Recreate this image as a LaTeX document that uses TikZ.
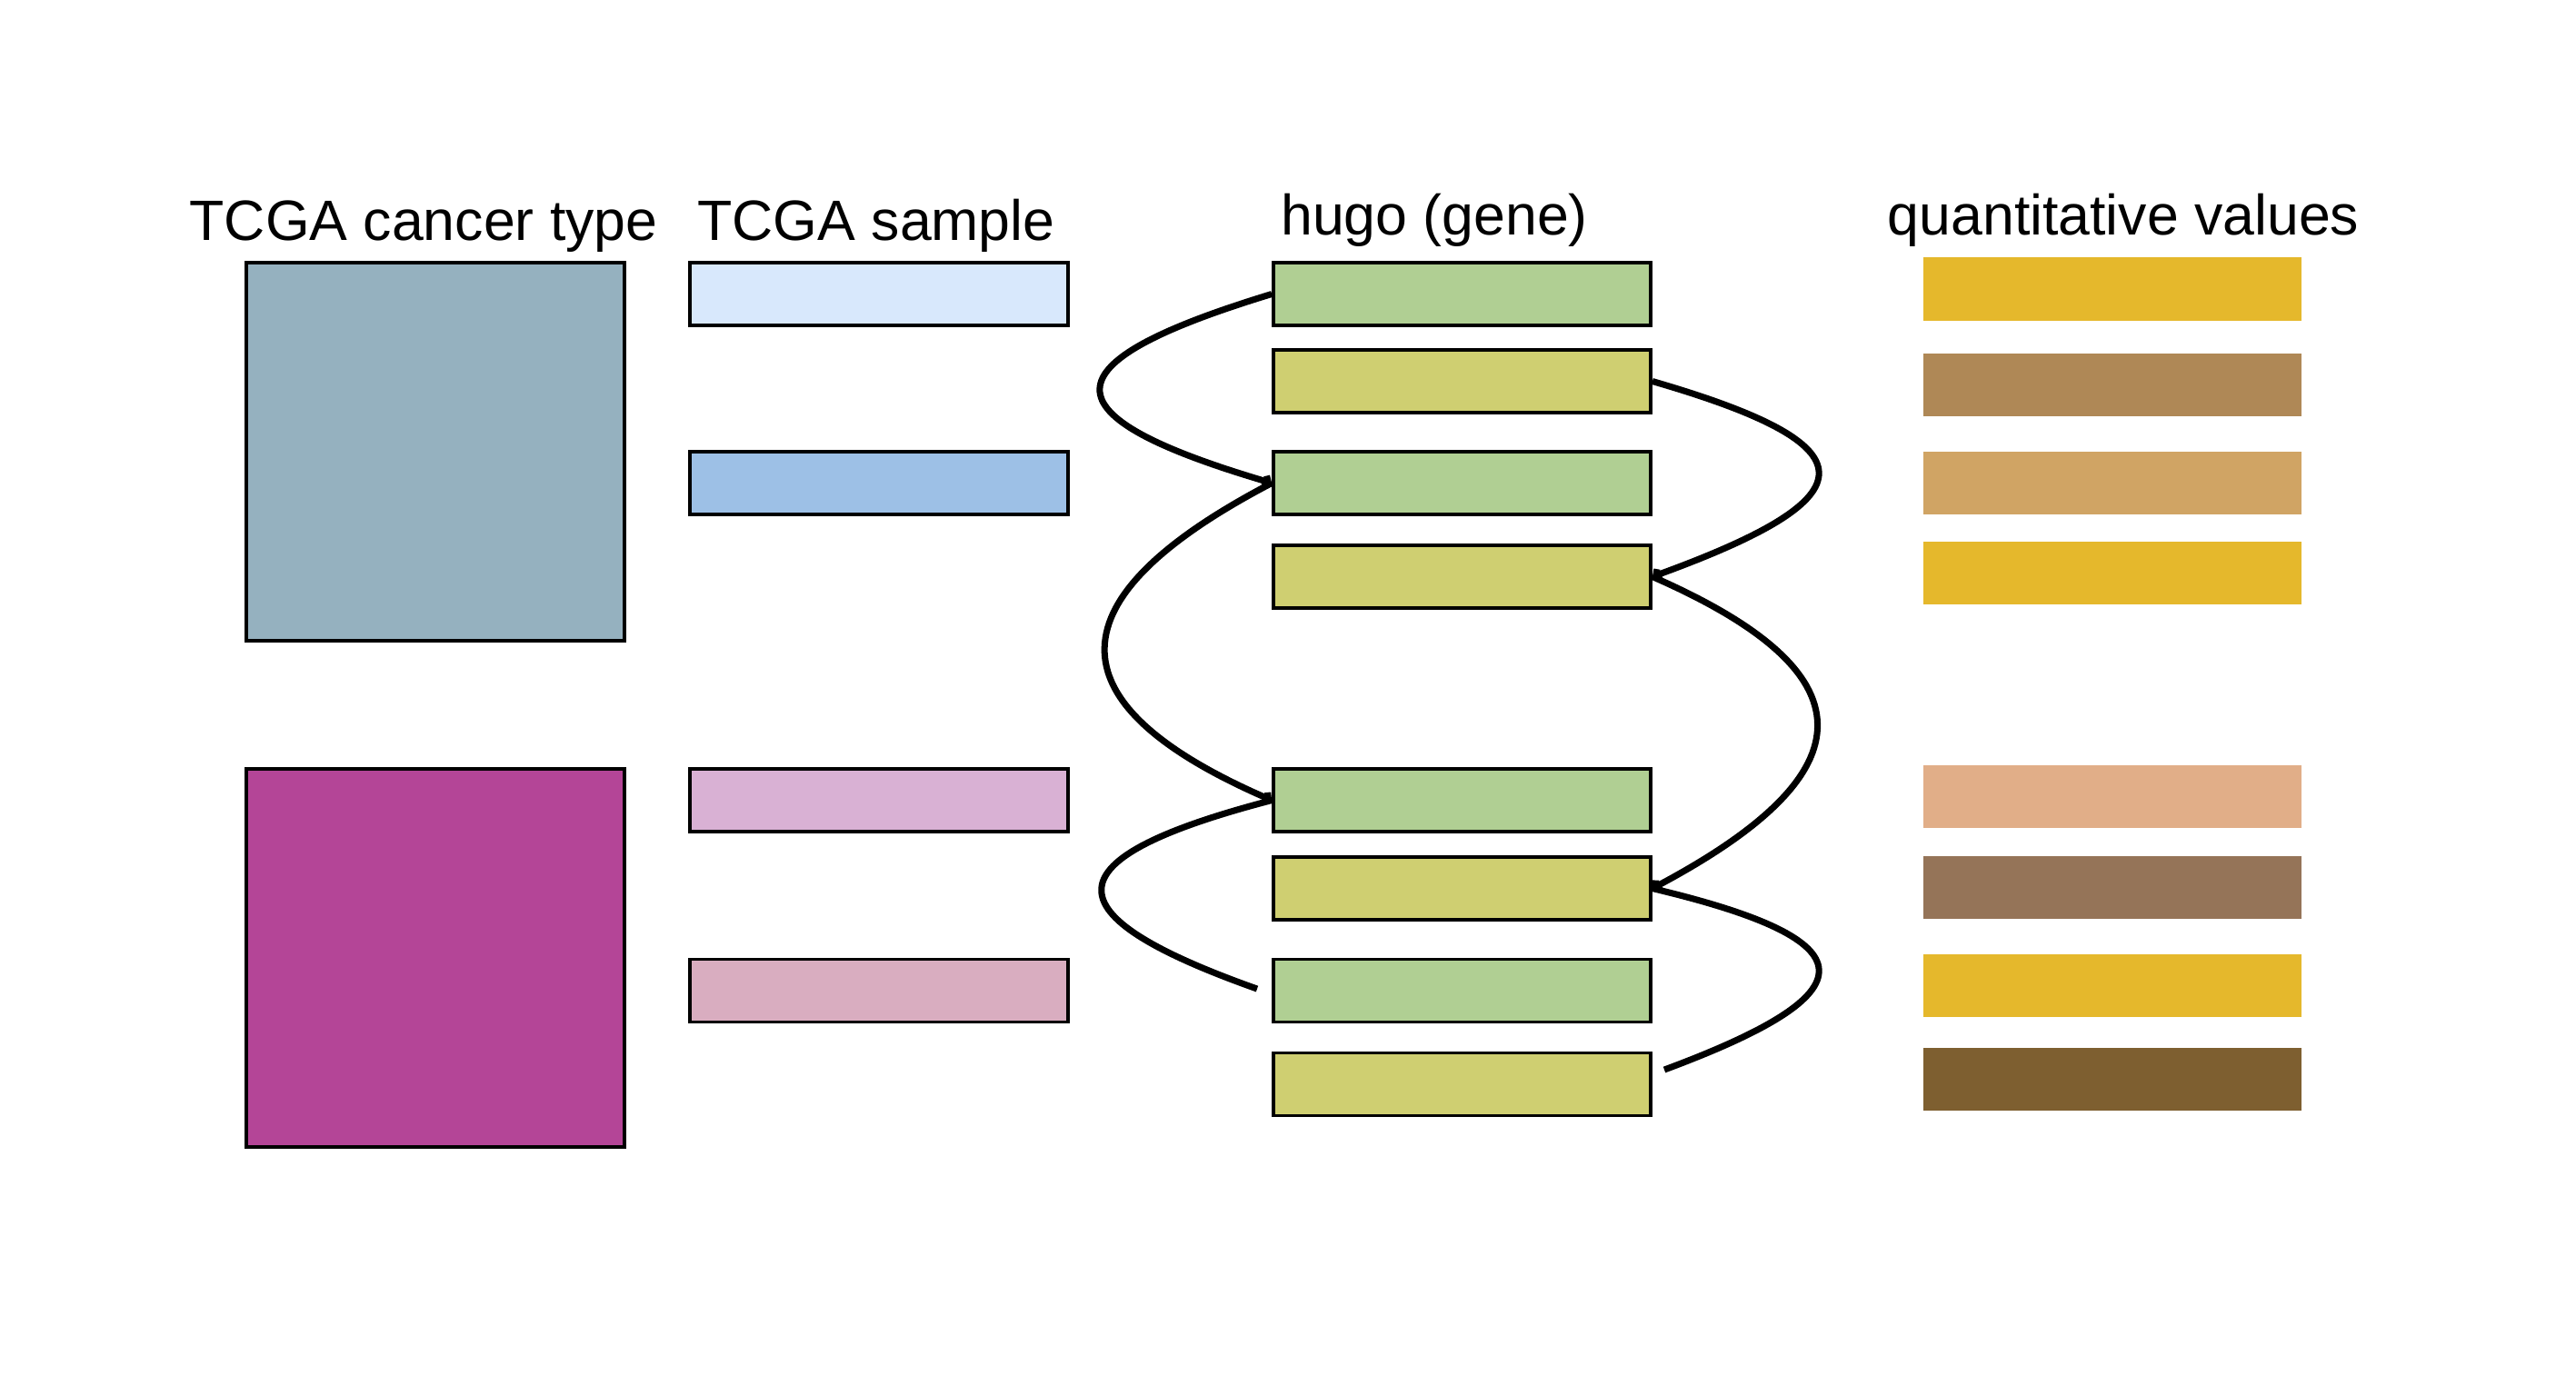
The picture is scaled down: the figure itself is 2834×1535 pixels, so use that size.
\documentclass[tikz,border=0pt]{standalone}
\usepackage{fontspec}
\setmainfont{Liberation Sans}
\usepackage{tikz}
\usetikzlibrary{arrows.meta}

\definecolor{ctypeA}{HTML}{95B1BF}
\definecolor{ctypeB}{HTML}{B44597}
\definecolor{sampA}{HTML}{D8E8FC}
\definecolor{sampB}{HTML}{9DC0E6}
\definecolor{sampC}{HTML}{D9B1D4}
\definecolor{sampD}{HTML}{D9ADC0}
\definecolor{geneG}{HTML}{B0CF93}
\definecolor{geneY}{HTML}{CFCF71}
\definecolor{qGold}{HTML}{E5B82C}
\definecolor{qBrown}{HTML}{AF8856}
\definecolor{qTan}{HTML}{D0A464}
\definecolor{qPeach}{HTML}{E1AE88}
\definecolor{qMid}{HTML}{957458}
\definecolor{qDark}{HTML}{7E5F30}

\begin{document}
\begin{tikzpicture}[x=0.01cm, y=-0.01cm,
    ctype/.style={draw=black, line width=1pt, minimum width=4.16cm, minimum height=4.16cm, inner sep=0pt},
    sample/.style={draw=black, line width=1pt, minimum width=4.16cm, minimum height=0.69cm, inner sep=0pt},
    gene/.style={draw=black, line width=1pt, minimum width=4.15cm, minimum height=0.69cm, inner sep=0pt},
    qval/.style={minimum width=4.16cm, minimum height=0.69cm, inner sep=0pt},
    colhead/.style={anchor=base, font=\fontsize{17.8}{20}\selectfont},
    link/.style={line width=2pt},
    joinlink/.style={line width=2pt, -{Straight Barb[length=1pt,width=3.5pt]}}]
  \useasboundingbox (0,0) rectangle (2834,1535);

  % column headings
  \node [colhead] (hct) at (466,264) {TCGA cancer type};
  \node [colhead] (hs) at (964,264) {TCGA sample};
  \node [colhead] (hg) at (1578,258) {hugo (gene)};
  \node [colhead] (hq) at (2336,258) {quantitative values};

  % cancer types
  \node [ctype, fill=ctypeA] (ct1) at (479,497) {};
  \node [ctype, fill=ctypeB] (ct2) at (479,1054) {};

  % samples
  \node [sample, fill=sampA] (s1) at (967,323.5) {};
  \node [sample, fill=sampB] (s2) at (967,531.5) {};
  \node [sample, fill=sampC] (s3) at (967,880.5) {};
  \node [sample, fill=sampD] (s4) at (967,1090) {};

  % genes
  \node [gene, fill=geneG] (g1) at (1608.5,323.5) {};
  \node [gene, fill=geneY] (g2) at (1608.5,419.5) {};
  \node [gene, fill=geneG] (g3) at (1608.5,531.5) {};
  \node [gene, fill=geneY] (g4) at (1608.5,634.5) {};
  \node [gene, fill=geneG] (g5) at (1608.5,880.5) {};
  \node [gene, fill=geneY] (g6) at (1608.5,977.5) {};
  \node [gene, fill=geneG] (g7) at (1608.5,1090) {};
  \node [gene, fill=geneY] (g8) at (1608.5,1193) {};

  % quantitative values
  \node [qval, fill=qGold] (q1) at (2324,318) {};
  \node [qval, fill=qBrown] (q2) at (2324,423) {};
  \node [qval, fill=qTan] (q3) at (2324,531.5) {};
  \node [qval, fill=qGold] (q4) at (2324,630.5) {};
  \node [qval, fill=qPeach] (q5) at (2324,876.5) {};
  \node [qval, fill=qMid] (q6) at (2324,976) {};
  \node [qval, fill=qGold] (q7) at (2324,1084.5) {};
  \node [qval, fill=qDark] (q8) at (2324,1187.5) {};

  % loose ends
  \coordinate (e7) at (1383,1088);
  \coordinate (e8) at (1831,1177);

  % left loops
  \draw [joinlink] (g1.west) .. controls (1148,400) and (1148,457) .. (g3.west);
  \draw [joinlink] (g3.west) .. controls (1157,658) and (1153,773) .. (g5.west);
  \draw [link] (g5.west) .. controls (1152,945) and (1152,1006) .. (e7);

  % right loops
  \draw [joinlink] (g2.east) .. controls (2061,490) and (2061,546) .. (g4.east);
  \draw [joinlink] (g4.east) .. controls (2059,740) and (2059,849) .. (g6.east);
  \draw [link] (g6.east) .. controls (2060,1035) and (2060,1092) .. (e8);
\end{tikzpicture}
\end{document}
